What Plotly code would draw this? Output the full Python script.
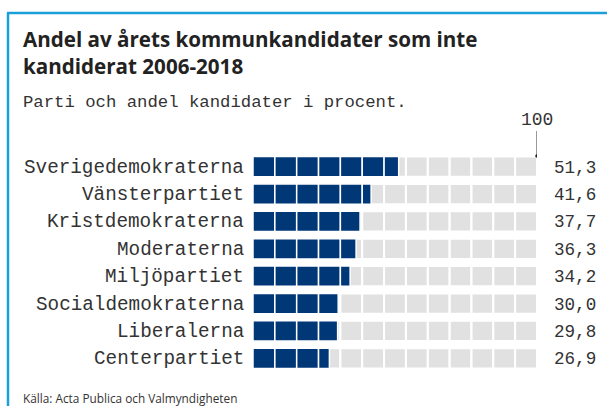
import plotly.graph_objects as go

parties = ["Sverigedemokraterna", "Vänsterpartiet", "Kristdemokraterna", "Moderaterna",
           "Miljöpartiet", "Socialdemokraterna", "Liberalerna", "Centerpartiet"]
values = [51.3, 41.6, 37.7, 36.3, 34.2, 30.0, 29.8, 26.9]
n_segments = 13
total = 100

title_text = "Andel av årets kommunkandidater som inte<br>kandiderat 2006-2018"
subtitle_text = "Parti och andel kandidater i procent."
source_text = "Källa: Acta Publica och Valmyndigheten"

W, H = 607, 406
L, R, T, B = 253, 70, 153, 34
PW, PH = W - L - R, H - T - B

def px(x):
    return (x - L) / PW

def py(y):
    return (H - B - y) / PH

BLUE = "#003777"
GRAY = "#e1e1e1"
FRAME = "#1a9fd9"
TXT = "#333333"
MONO = "Liberation Mono, Cousine, monospace"

seg = total / n_segments
fig = go.Figure()
for k in range(n_segments):
    fig.add_trace(go.Bar(
        y=parties, x=[seg] * len(parties), base=[k * seg] * len(parties),
        orientation="h", marker=dict(color=GRAY, line=dict(color="white", width=2)),
        width=0.74, hoverinfo="skip", showlegend=False))
for k in range(n_segments):
    lens = [min(max(v - k * seg, 0), seg) for v in values]
    fig.add_trace(go.Bar(
        y=parties, x=lens, base=[k * seg] * len(parties),
        orientation="h", marker=dict(color=BLUE, line=dict(color="white", width=1.5)),
        width=0.74, hoverinfo="skip", showlegend=False))

annotations = []
for p, v in zip(parties, values):
    annotations.append(dict(x=0, y=p, xref="x", yref="y", text=p, showarrow=False,
                            xanchor="right", xshift=-7, yshift=-1,
                            font=dict(family=MONO, size=19.3, color=TXT)))
    annotations.append(dict(x=total, y=p, xref="x", yref="y",
                            text=f"{v:.1f}".replace(".", ","), showarrow=False,
                            xanchor="left", xshift=15, yshift=-1,
                            font=dict(family=MONO, size=17.6, color=TXT)))

annotations += [
    dict(x=px(21), y=py(23), xref="paper", yref="paper", text="<b>" + title_text + "</b>",
         showarrow=False, xanchor="left", yanchor="top", align="left",
         font=dict(family="Open Sans, sans-serif", size=20.6, color="#222222")),
    dict(x=px(21), y=py(103), xref="paper", yref="paper", text=subtitle_text,
         showarrow=False, xanchor="left", yanchor="middle",
         font=dict(family=MONO, size=17.3, color=TXT)),
    dict(x=total, y=py(120), xref="x", yref="paper", text=str(total),
         showarrow=False, xanchor="center", yanchor="middle",
         font=dict(family=MONO, size=18, color=TXT)),
    dict(x=px(21), y=py(398), xref="paper", yref="paper", text=source_text,
         showarrow=False, xanchor="left", yanchor="middle",
         font=dict(family="Open Sans, sans-serif", size=11.8, color=TXT)),
]

shapes = [
    dict(type="line", xref="paper", yref="paper", x0=px(8), x1=px(8), y0=py(420), y1=py(13),
         line=dict(color=FRAME, width=2.5)),
    dict(type="line", xref="paper", yref="paper", x0=px(7), x1=px(620), y0=py(13), y1=py(13),
         line=dict(color=FRAME, width=2.5)),
    dict(type="line", xref="x", yref="paper", x0=total, x1=total, y0=py(131), y1=py(156),
         line=dict(color="#333333", width=1)),
    dict(type="circle", xref="x", yref="paper", xsizemode="pixel", ysizemode="pixel",
         xanchor=total, yanchor=py(156), x0=-1.8, x1=1.8, y0=-1.8, y1=1.8,
         fillcolor="#222222", line=dict(width=0)),
]

fig.update_layout(
    width=W, height=H, margin=dict(l=L, r=R, t=T, b=B),
    paper_bgcolor="white", plot_bgcolor="white", barmode="overlay",
    xaxis=dict(range=[0, total], visible=False, fixedrange=True),
    yaxis=dict(autorange=False, range=[len(parties) - 0.5, -0.5], visible=False,
               categoryorder="array", categoryarray=parties, fixedrange=True),
    annotations=annotations, shapes=shapes, showlegend=False,
)

fig.write_html("out.html", config={"displayModeBar": False},
               post_script="document.body.style.margin='0';document.body.style.padding='0';document.body.style.overflow='hidden';")
